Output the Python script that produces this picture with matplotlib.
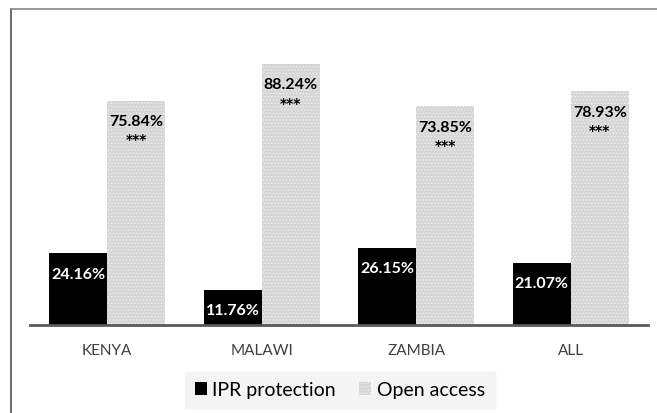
import numpy as np
import matplotlib.pyplot as plt
from matplotlib.lines import Line2D

plt.rcParams['font.family'] = ['Lato', 'DejaVu Sans']
plt.rcParams['hatch.linewidth'] = 0.6

# data
countries = ["KENYA", "MALAWI", "ZAMBIA", "ALL"]
ipr = [24.16, 11.76, 26.15, 21.07]
open_access = [75.84, 88.24, 73.85, 78.93]
stars = ["***", "***", "***", "***"]

fig = plt.figure(figsize=(6.57, 4.14), dpi=100)
ax = fig.add_axes([30/657, 1 - 326/414, 618/657, 296/414])

x = np.arange(len(countries))
w = 0.375

b1 = ax.bar(x - w/2, ipr, w, color='black', label='IPR protection')
b2 = ax.bar(x + w/2, open_access, w, color='#d6d6d6', edgecolor='#eeeeee',
            linewidth=0, hatch='.....', label='Open access')

# value labels
for i in range(len(countries)):
    ax.annotate(f"{ipr[i]:.2f}%", (x[i] - w/2, ipr[i]), xytext=(0, -14.5),
                textcoords='offset points', ha='center', va='center',
                color='white', fontsize=11.5, fontweight='bold')
    ax.annotate(f"{open_access[i]:.2f}%", (x[i] + w/2, open_access[i]), xytext=(0, -14.5),
                textcoords='offset points', ha='center', va='center',
                color='black', fontsize=11.5, fontweight='bold')
    ax.annotate(stars[i], (x[i] + w/2, open_access[i]), xytext=(0, -28),
                textcoords='offset points', ha='center', va='center',
                color='black', fontsize=10, fontweight='bold', family='DejaVu Sans')

ax.set_xlim(-0.5, len(countries) - 0.5)
ax.set_ylim(0, 100)
ax.set_xticks(x)
ax.set_xticklabels(countries, fontsize=11, color='#404040')
ax.tick_params(axis='x', length=0, pad=13)
ax.set_yticks([])
for s in ['top', 'right', 'left']:
    ax.spines[s].set_visible(False)
ax.spines['bottom'].set_color('#595959')
ax.spines['bottom'].set_linewidth(2)

leg = fig.legend(handles=[b1, b2], loc='center', bbox_to_anchor=(340/657, 1 - 391/414),
                 ncol=2, frameon=True, fontsize=14, handlelength=0.6, handleheight=0.6,
                 handletextpad=0.3, columnspacing=1.2, fancybox=False, borderpad=0.5)
leg.get_frame().set_facecolor('#f2f2f2')
leg.get_frame().set_edgecolor('#f2f2f2')

# outer frame lines
fig.add_artist(Line2D([11/657, 11/657], [0, 1 - 10/414], color='#555555', lw=1.2))
fig.add_artist(Line2D([11/657, 1], [1 - 10/414, 1 - 10/414], color='#888888', lw=1.2))

plt.savefig("out.png", dpi=100)
